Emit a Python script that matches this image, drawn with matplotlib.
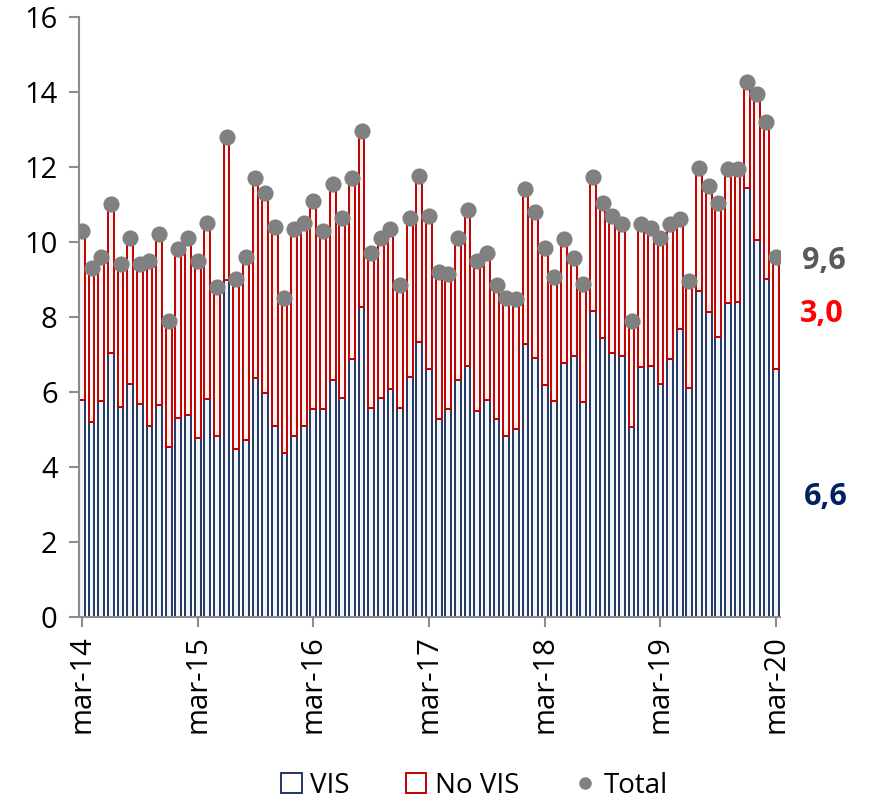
import matplotlib
matplotlib.use('Agg')
import matplotlib.pyplot as plt
import numpy as np
from matplotlib.patches import Patch
from matplotlib.lines import Line2D

plt.rcParams['font.family'] = ['Open Sans', 'DejaVu Sans']

# monthly data, mar-14 .. mar-20
total = [10.3, 9.3, 9.6, 11.0, 9.4, 10.1, 9.4, 9.5, 10.2, 7.9, 9.8, 10.1,
         9.5, 10.5, 8.8, 12.8, 9.0, 9.6, 11.7, 11.3, 10.4, 8.5, 10.35, 10.5,
         11.1, 10.3, 11.55, 10.65, 11.7, 12.97, 9.7, 10.1, 10.35, 8.85, 10.65, 11.75,
         10.7, 9.2, 9.15, 10.1, 10.85, 9.5, 9.7, 8.85, 8.5, 8.47, 11.41, 10.8,
         9.85, 9.06, 10.07, 9.56, 8.88, 11.73, 11.05, 10.68, 10.48, 7.9, 10.48, 10.38,
         10.1, 10.48, 10.6, 8.96, 11.98, 11.49, 11.03, 11.95, 11.95, 14.26, 13.94, 13.19,
         9.6]
vis = [5.8, 5.2, 5.75, 7.05, 5.6, 6.2, 5.67, 5.09, 5.66, 4.53, 5.32, 5.39,
       4.78, 5.82, 4.83, 8.99, 4.47, 4.73, 6.38, 5.97, 5.09, 4.37, 4.83, 5.1,
       5.55, 5.55, 6.32, 5.84, 6.88, 8.27, 5.57, 5.84, 6.07, 5.58, 6.4, 7.32,
       6.6, 5.27, 5.55, 6.33, 6.68, 5.49, 5.79, 5.28, 4.82, 5.02, 7.28, 6.91,
       6.18, 5.77, 6.77, 6.96, 5.74, 8.17, 7.45, 7.04, 6.96, 5.06, 6.67, 6.69,
       6.22, 6.88, 7.67, 6.11, 8.68, 8.13, 7.47, 8.36, 8.4, 11.44, 10.04, 9.01,
       6.6]
no_vis = [t - v for t, v in zip(total, vis)]
tick_labels = ['mar-14', 'mar-15', 'mar-16', 'mar-17', 'mar-18', 'mar-19', 'mar-20']

navy = '#1F3864'
red = '#C00000'
grey = '#808080'
axis_grey = '#8C8C8C'

fig = plt.figure(figsize=(8.71, 8.07), dpi=100)
ax = fig.add_axes([0.0902, 0.2354, 0.8053, 0.7436])

x = np.arange(len(total))
ax.bar(x, vis, width=0.6, facecolor='#F2F4F8', edgecolor=navy, linewidth=1.4, zorder=2)
ax.bar(x, no_vis, bottom=vis, width=0.6, facecolor='#FBF2F2', edgecolor=red, linewidth=1.4, zorder=2)
ax.scatter(x, total, s=135, color=grey, zorder=3, linewidths=0)

ax.set_ylim(0, 16)
ax.set_yticks(range(0, 17, 2))
ax.set_xlim(-0.35, 72.4)
ax.set_xticks(range(0, 73, 12))
ax.set_xticklabels(tick_labels, rotation=90)

for s in ['top', 'right']:
    ax.spines[s].set_visible(False)
for s in ['left', 'bottom']:
    ax.spines[s].set_color(axis_grey)
    ax.spines[s].set_linewidth(1.5)
ax.tick_params(axis='both', colors=axis_grey, labelcolor='black', labelsize=21,
               length=7, width=1.5, direction='out')
ax.tick_params(axis='y', pad=8)
ax.tick_params(axis='x', pad=6)

# end-of-series labels
ax.text(77.0, 9.5, '9,6', color='#595959', fontsize=22, fontweight='bold',
        ha='center', va='center', clip_on=False)
ax.text(76.7, 8.07, '3,0', color='#FF0000', fontsize=22, fontweight='bold',
        ha='center', va='center', clip_on=False)
ax.text(77.2, 3.2, '6,6', color='#002060', fontsize=22, fontweight='bold',
        ha='center', va='center', clip_on=False)

handles = [Patch(facecolor='white', edgecolor=navy, linewidth=1.4, label='VIS'),
           Patch(facecolor='white', edgecolor=red, linewidth=1.4, label='No VIS'),
           Line2D([], [], marker='o', color=grey, linestyle='none', markersize=8, label='Total')]
fig.legend(handles=handles, loc='lower center', bbox_to_anchor=(0.545, -0.022), ncol=3,
           frameon=False, fontsize=20, handlelength=0.75, handleheight=0.75,
           handletextpad=0.3, columnspacing=2.0)

fig.savefig('out.png', dpi=100)
